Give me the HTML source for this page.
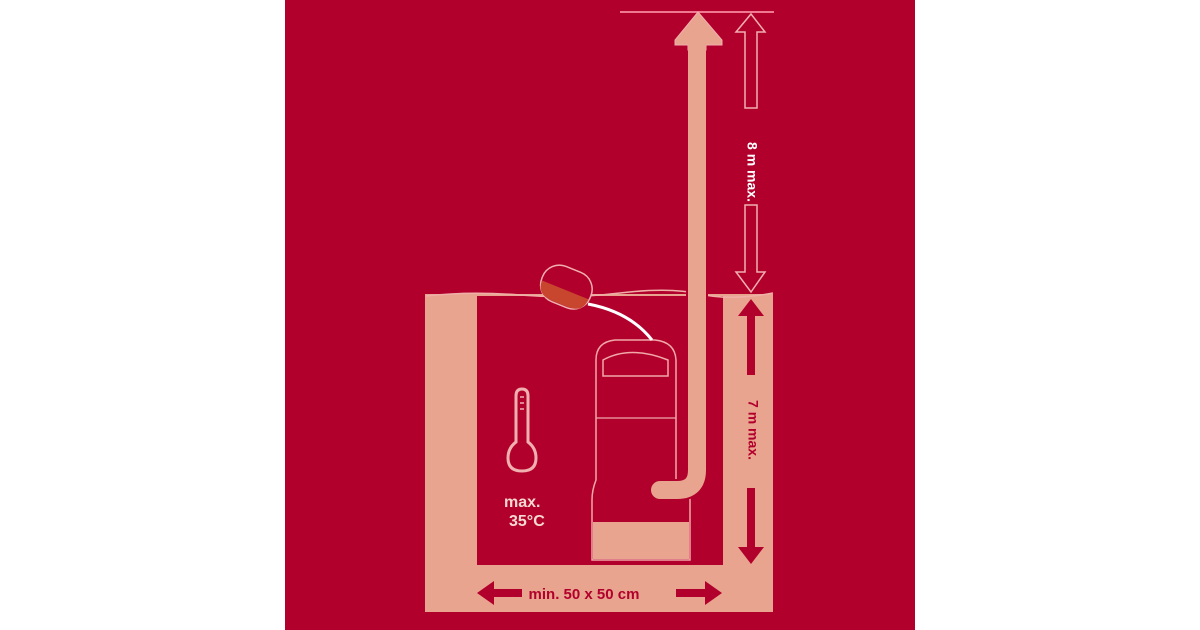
<!DOCTYPE html>
<html><head><style>
html,body{margin:0;padding:0;background:#fff;width:1200px;height:630px;overflow:hidden}
svg{display:block}
text{font-family:"Liberation Sans",sans-serif;font-weight:bold}
</style></head><body>
<svg width="1200" height="630" viewBox="0 0 1200 630">
<rect x="0" y="0" width="1200" height="630" fill="#fff"/>
<rect x="285" y="0" width="630" height="630" fill="#b2002c"/>
<!-- pit -->
<rect x="425" y="294" width="348" height="318" fill="#e8a48e"/>
<rect x="477" y="296" width="246" height="269" fill="#b2002c"/>
<!-- water line -->
<path d="M426 296 Q470 291 520 295 T620 293 T700 294 T773 293" stroke="#f0b0a8" stroke-width="1.5" fill="none"/>
<!-- top line -->
<line x1="620" y1="12" x2="774" y2="12" stroke="#f07890" stroke-width="2"/>
<!-- pump -->
<path d="M596 360 Q596 342 615 340 L655 340 Q675 342 676 360 L676 480 Q690 490 690 500 L690 560 L592 560 L592 500 Q592 490 596 480 Z" fill="#b2002c" stroke="#f0a8a8" stroke-width="1.5"/>
<rect x="593" y="522" width="96" height="37" fill="#e8a48e"/>
<path d="M603 376 L603 360 Q630 345 668 360 L668 376 Z" fill="none" stroke="#f0a8a8" stroke-width="1.5"/>
<line x1="596" y1="418" x2="676" y2="418" stroke="#f0a8a8" stroke-width="1.2"/>
<!-- pipe -->
<path d="M697 40 L697 470 Q697 490 677 490 L660 490" stroke="#b2002c" stroke-width="22" fill="none" stroke-linecap="round"/>
<path d="M697 40 L697 470 Q697 490 677 490 L660 490" stroke="#e8a48e" stroke-width="18" fill="none" stroke-linecap="round"/>
<polygon points="698,12 722,40 722,45 706,45 706,50 688,50 688,45 675,45 675,40" fill="#e8a48e" stroke="#f0b0b0" stroke-width="1"/>
<rect x="688" y="44" width="18" height="10" fill="#e8a48e"/>
<!-- float & cable -->
<path d="M588 304 Q630 312 652 340" stroke="#fff" stroke-width="3" fill="none"/>
<g transform="rotate(22 566 288)">
<rect x="540" y="268" width="52" height="38" rx="18" fill="#b2002c" stroke="#f0b0b0" stroke-width="1.5"/>
<path d="M541 290 L591 290 Q591 305 574 305 L558 305 Q541 305 541 290 Z" fill="#c8452e"/>
</g>
<!-- 8m outline arrows -->
<g fill="none" stroke="#f0b0b0" stroke-width="1.5">
<polygon points="751,14 765,32 757,32 757,108 745,108 745,32 736,32"/>
<polygon points="751,292 765,272 757,272 757,205 745,205 745,272 736,272"/>
</g>
<text transform="translate(751 172) rotate(90)" fill="#fff" font-size="14" text-anchor="middle" dominant-baseline="middle">8 m max.</text>
<!-- 7m arrows -->
<g fill="#b2002c">
<polygon points="751,299 764,316 755,316 755,375 747,375 747,316 738,316"/>
<polygon points="751,564 764,547 755,547 755,488 747,488 747,547 738,547"/>
</g>
<text transform="translate(752 430) rotate(90)" fill="#b2002c" font-size="14" text-anchor="middle" dominant-baseline="middle">7 m max.</text>
<!-- width arrows -->
<g fill="#b2002c">
<polygon points="477,593 494,581 494,589 522,589 522,597 494,597 494,605"/>
<polygon points="722,593 705,581 705,589 676,589 676,597 705,597 705,605"/>
</g>
<text x="584" y="599" fill="#b2002c" font-size="15" text-anchor="middle">min. 50 x 50 cm</text>
<!-- thermometer -->
<path d="M516 442 L516 396 Q516 389 522 389 Q528 389 528 396 L528 442 Q536 448 536 458 Q536 471 522 471 Q508 471 508 458 Q508 448 516 442 Z" fill="none" stroke="#f0b0b0" stroke-width="3"/>
<line x1="520" y1="397" x2="524" y2="397" stroke="#f0b0b0" stroke-width="1.5"/>
<line x1="520" y1="403" x2="524" y2="403" stroke="#f0b0b0" stroke-width="1.5"/>
<line x1="520" y1="409" x2="524" y2="409" stroke="#f0b0b0" stroke-width="1.5"/>
<text x="504" y="507" fill="#f8d8d0" font-size="16">max.</text>
<text x="509" y="526" fill="#f8d8d0" font-size="16">35°C</text>
</svg>
</body></html>
